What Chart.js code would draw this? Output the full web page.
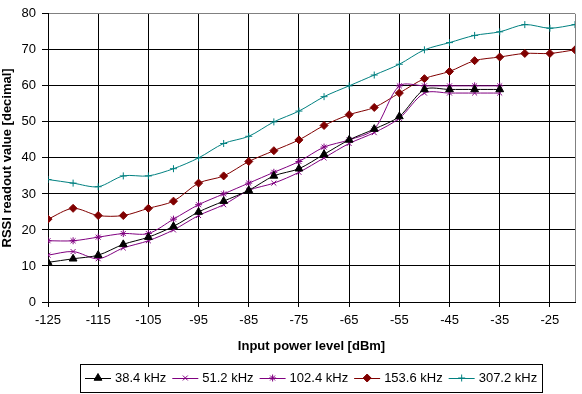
<!DOCTYPE html>
<html>
<head>
<meta charset="utf-8">
<script src="https://cdn.jsdelivr.net/npm/chart.js@4.4.1/dist/chart.umd.min.js"></script>
<style>
  body { margin: 0; background: #fff; }
</style>
</head>
<body>
<canvas id="rssiChart" width="582" height="394"></canvas>
<script>
'use strict'

// input power steps [dBm]
var powerLevels = [-125, -120, -115, -110, -105, -100, -95, -90, -85, -80, -75,
                   -70, -65, -60, -55, -50, -45, -40, -35, -30, -25, -20];
var xTicks = [-125, -115, -105, -95, -85, -75, -65, -55, -45, -35, -25];
var yTicks = [0, 10, 20, 30, 40, 50, 60, 70, 80];

// RSSI readouts per bandwidth
var bw384  = [11, 12, 13, 16, 18, 21, 25, 28, 31, 35, 37, 41, 45, 48, 51.5, 59, 59, 59, 59];
var bw512  = [13, 14, 12, 15, 17, 20, 24, 27, 31, 33, 36, 40, 44, 47, 51, 58, 58, 58, 58];
var bw1024 = [17, 17, 18, 19, 19, 23, 27, 30, 33, 36, 39, 43, 45, 48, 60, 60, 60, 60, 60];
var bw1536 = [23, 26, 24, 24, 26, 28, 33, 35, 39, 42, 45, 49, 52, 54, 58, 62, 64, 67, 68, 69, 69, 70];
var bw3072 = [34, 33, 32, 35, 35, 37, 40, 44, 46, 50, 53, 57, 60, 63, 66, 70, 72, 74, 75, 77, 76, 77];

function toPoints(values) {
    return values.map(function (v, i) { return { x: powerLevels[i], y: v }; });
}

var FONT = '"Liberation Sans", Arial, sans-serif';
Chart.defaults.font.family = FONT;
Chart.defaults.font.size = 13;
Chart.defaults.color = '#000';

// gray frame on the right side of the plot
var plotFrame = {
    id: 'plotFrame',
    beforeDatasetsDraw: function (chart) {
        var a = chart.chartArea, ctx = chart.ctx;
        ctx.save();
        ctx.strokeStyle = '#808080';
        ctx.lineWidth = 1;
        ctx.beginPath();
        ctx.moveTo(Math.round(a.right) + 0.5, a.top);
        ctx.lineTo(Math.round(a.right) + 0.5, a.bottom);
        ctx.stroke();
        ctx.restore();
    }
};

// excel-like legend: line + marker + label inside a box
var boxLegend = {
    id: 'boxLegend',
    afterDraw: function (chart) {
        var ctx = chart.ctx;
        var lineLen = 26, gapA = 4, gapB = 6, pad = 5;
        ctx.save();
        ctx.font = '13px ' + FONT;
        var sets = chart.data.datasets;
        var widths = sets.map(function (ds) { return ctx.measureText(ds.label).width; });
        var total = pad * 2 + gapB * (sets.length - 1);
        widths.forEach(function (w) { total += lineLen + gapA + w; });
        var left = Math.round((chart.chartArea.left + chart.chartArea.right) / 2 - total / 2);
        var top = 364, h = 28, cy = top + h / 2;

        ctx.strokeStyle = '#000';
        ctx.lineWidth = 1;
        ctx.strokeRect(left + 0.5, top + 0.5, Math.round(total), h);

        var x = left + pad;
        sets.forEach(function (ds, i) {
            ctx.strokeStyle = ds.borderColor;
            ctx.lineWidth = 1;
            ctx.beginPath();
            ctx.moveTo(x, Math.round(cy) + 0.5);
            ctx.lineTo(x + lineLen, Math.round(cy) + 0.5);
            ctx.stroke();
            ctx.fillStyle = ds.pointBackgroundColor;
            ctx.strokeStyle = ds.pointBorderColor;
            Chart.helpers.drawPoint(ctx, {
                pointStyle: ds.pointStyle,
                radius: ds.pointRadius,
                borderWidth: 1,
                rotation: 0
            }, x + lineLen / 2, cy);
            x += lineLen + gapA;
            ctx.fillStyle = '#000';
            ctx.textBaseline = 'middle';
            ctx.textAlign = 'left';
            ctx.fillText(ds.label, x, cy);
            x += widths[i] + gapB;
        });
        ctx.restore();
    }
};

function series(label, values, color, style, radius) {
    return {
        label: label,
        data: toPoints(values),
        borderColor: color,
        borderWidth: 1,
        backgroundColor: color,
        pointBackgroundColor: color,
        pointBorderColor: color,
        pointBorderWidth: 1,
        pointStyle: style,
        pointRadius: radius,
        pointHoverRadius: radius,
        tension: 0.3
    };
}

var ctx = document.getElementById('rssiChart').getContext('2d');
var rssiChart = new Chart(ctx, {
    type: 'line',
    data: {
        datasets: [
            series('38.4 kHz', bw384, '#000000', 'triangle', 4.5),
            series('51.2 kHz', bw512, '#800080', 'crossRot', 3.5),
            series('102.4 kHz', bw1024, '#800080', 'star', 3.5),
            series('153.6 kHz', bw1536, '#800000', 'rectRot', 4),
            series('307.2 kHz', bw3072, '#008080', 'cross', 3.5)
        ]
    },
    options: {
        responsive: false,
        animation: false,
        layout: {
            padding: { top: 9, right: 7, bottom: 40, left: 0 }
        },
        plugins: {
            legend: { display: false },
            tooltip: { enabled: false }
        },
        scales: {
            x: {
                type: 'linear',
                min: -125,
                max: -20,
                afterBuildTicks: function (axis) {
                    axis.ticks = xTicks.map(function (v) { return { value: v }; });
                },
                afterFit: function (axis) { axis.height = 52; },
                ticks: { padding: 6, maxRotation: 0, autoSkip: false },
                grid: { color: '#000', tickColor: '#000', tickLength: 5, lineWidth: 1 },
                border: { color: '#000', width: 1 },
                title: {
                    display: true,
                    text: 'Input power level [dBm]',
                    font: { weight: 'bold', size: 13 },
                    padding: { top: 2, bottom: 0 }
                }
            },
            y: {
                min: 0,
                max: 80,
                afterBuildTicks: function (axis) {
                    axis.ticks = yTicks.map(function (v) { return { value: v }; });
                },
                afterFit: function (axis) { axis.width = 48; },
                ticks: { padding: 6 },
                grid: {
                    color: function (c) { return c.tick && c.tick.value === 80 ? '#808080' : '#000'; },
                    tickColor: '#000',
                    tickLength: 6,
                    lineWidth: 1
                },
                border: { color: '#000', width: 1 },
                title: {
                    display: true,
                    text: 'RSSI readout value [decimal]',
                    font: { weight: 'bold', size: 13 },
                    padding: { top: 0, bottom: 0 }
                }
            }
        }
    },
    plugins: [plotFrame, boxLegend]
});
</script>
</body>
</html>
